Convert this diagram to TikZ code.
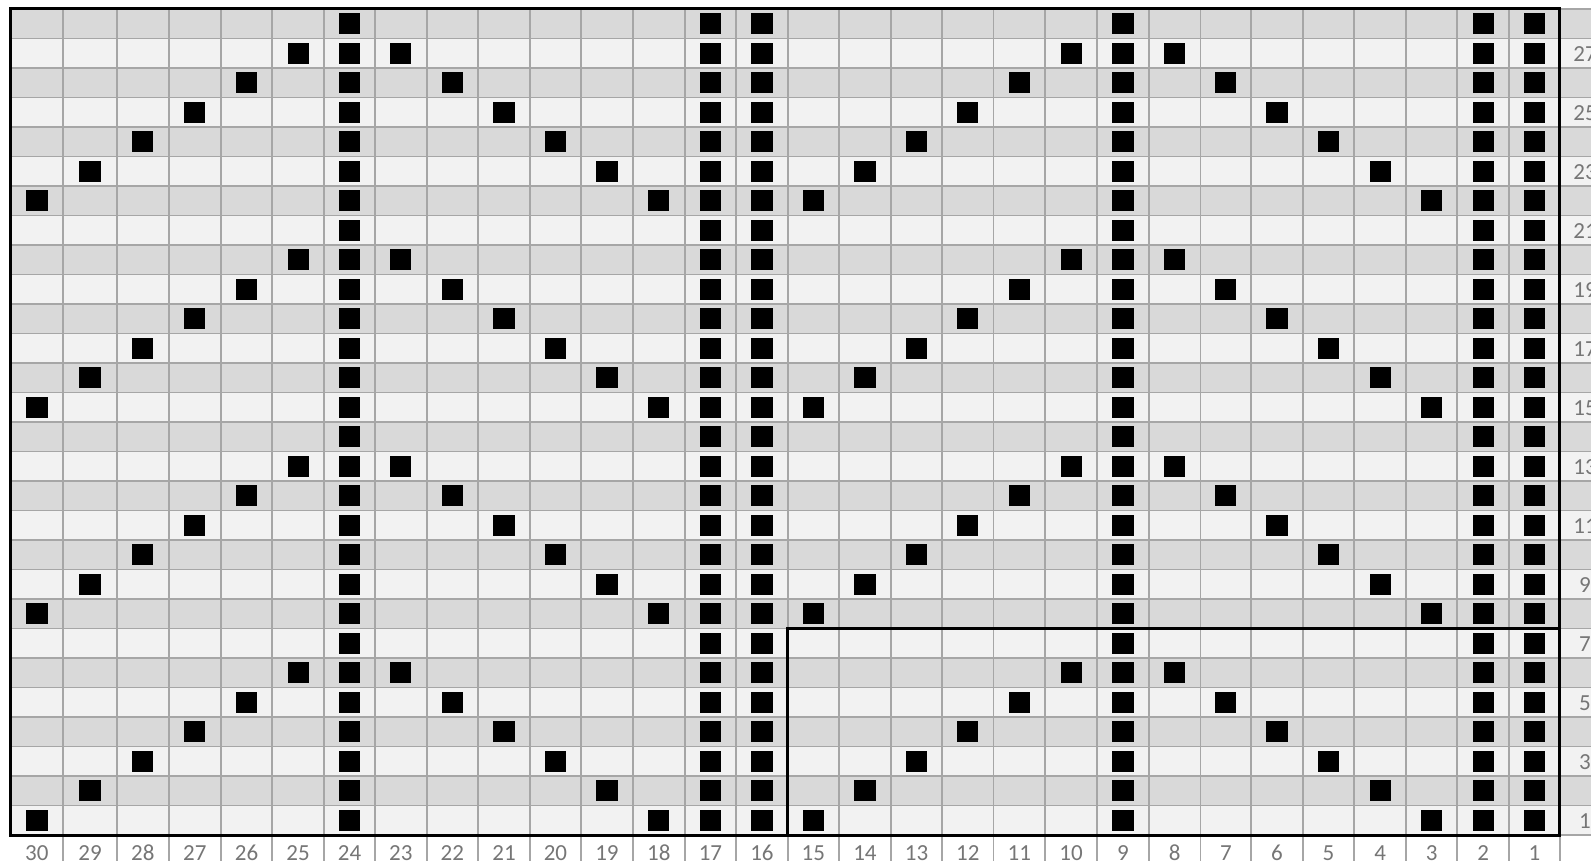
\documentclass[tikz,border=0pt]{standalone}
\usepackage{fontspec}
\setmainfont{Carlito}
\definecolor{rowlight}{HTML}{F2F2F2}
\definecolor{rowdark}{HTML}{D9D9D9}
\definecolor{gridgray}{HTML}{A6A6A6}
\definecolor{labelgray}{HTML}{767676}
\def\Xs{{10.5,63.3,116.7,169,220.7,272.3,324,375,426.7,478,530,580.9,633,684.6,736.3,787.6,838.9,890.9,942.2,993.4,1045.1,1097.1,1148.8,1200.4,1251.3,1302.6,1354.3,1406,1457.2,1509.3,1559.8}}
\newcommand\markcell[2]{%
  \pgfmathtruncatemacro\mcia{30-#1}%
  \pgfmathtruncatemacro\mcib{31-#1}%
  \pgfmathsetmacro\mcxl{\Xs[\mcia]}%
  \pgfmathsetmacro\mcxr{\Xs[\mcib]}%
  \pgfmathsetmacro\mcxc{(\mcxl+\mcxr)/2}%
  \pgfmathsetmacro\mcyc{9+29.5*(28-#2)+14.75}%
  \fill[cellmark] (\mcxc-10.6,\mcyc-10.6) rectangle (\mcxc+10.6,\mcyc+10.6);%
}
\begin{document}
\begin{tikzpicture}[x=1pt,y=-1pt,
  gridline/.style={draw=gridgray,line width=1.8pt},
  border/.style={draw=black,line width=3pt},
  cellmark/.style={fill=black},
  lbl/.style={font=\fontsize{23}{25}\selectfont,text=labelgray,inner sep=0pt}]
\useasboundingbox (0,0) rectangle (1591,861);
\clip (0,0) rectangle (1591,861);
\fill[white] (0,0) rectangle (1591,861);
% row shading
\foreach \r in {1,...,28} {
  \pgfmathsetmacro\yt{9+29.5*(28-\r)}
  \pgfmathtruncatemacro\odd{mod(\r,2)}
  \ifnum\odd=1 \def\rowc{rowlight}\else\def\rowc{rowdark}\fi
  \fill[\rowc] (10.5,\yt) rectangle (1600,\yt+29.5);
}
% horizontal grid lines
\foreach \j in {0,...,28} {
  \draw[gridline] (10.5,9+29.5*\j) -- (1600,9+29.5*\j);
}
% vertical grid lines (into label row)
\foreach \i in {1,...,30} {
  \pgfmathsetmacro\xv{\Xs[\i]}
  \draw[gridline] (\xv,9) -- (\xv,870);
}
% black marks
\foreach \r in {1,...,28} {
  \pgfmathtruncatemacro\k{mod(\r-1,7)+1}
  \foreach \c in {24,17,16,9,2,1} {\markcell{\c}{\r}}
  \ifnum\k<7
    \pgfmathtruncatemacro\ca{31-\k}
    \pgfmathtruncatemacro\cb{17+\k}
    \pgfmathtruncatemacro\cc{16-\k}
    \pgfmathtruncatemacro\cd{2+\k}
    \markcell{\ca}{\r}\markcell{\cb}{\r}\markcell{\cc}{\r}\markcell{\cd}{\r}
  \fi
}
% borders
\draw[border] (10.5,9) rectangle (1559.8,835);
\draw[border] (787.6,835) |- (1559.8,628.5);
% column labels
\foreach \c in {1,...,30} {
  \pgfmathtruncatemacro\ia{30-\c}
  \pgfmathtruncatemacro\ib{31-\c}
  \pgfmathsetmacro\xla{\Xs[\ia]}
  \pgfmathsetmacro\xlb{\Xs[\ib]}
  \node[lbl] (col\c) at ({(\xla+\xlb)/2},853) {\c};
}
% row labels
\foreach \r in {1,3,...,27} {
  \node[lbl] (row\r) at (1585,{9+29.5*(28-\r)+15.5}) {\r};
}
\end{tikzpicture}
\end{document}
